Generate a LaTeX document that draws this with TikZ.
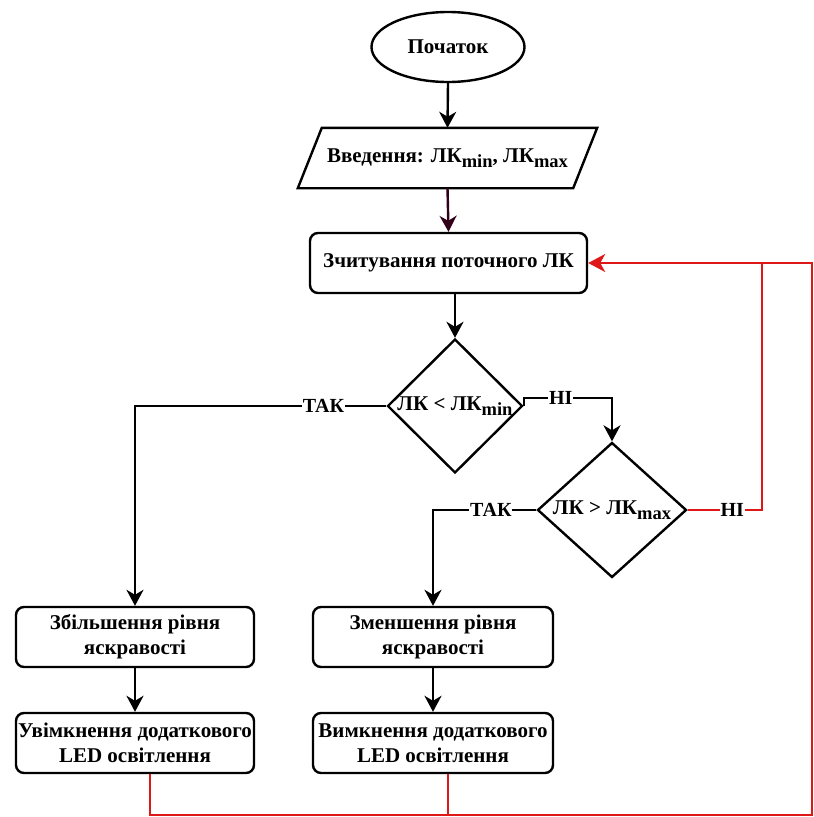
\documentclass[tikz,border=0pt]{standalone}
\usepackage{fontspec}
\setmainfont{Liberation Serif}
\usetikzlibrary{shapes.geometric,arrows.meta,calc}

% subscripted quantity, e.g. LK_min
\newcommand\lksub[1]{ЛК\raisebox{-5pt}{\fontsize{18.5}{18.5}\selectfont #1}}

\definecolor{loopred}{RGB}{222,24,24}
\definecolor{darkplum}{RGB}{51,0,26}

\begin{document}
\begin{tikzpicture}[x=1pt,y=-1pt,
  txt/.style={font=\bfseries\fontsize{21}{25}\selectfont},
  startnode/.style={draw, ellipse, line width=2.4pt, minimum width=153pt, minimum height=70pt, inner sep=0pt, txt},
  procbox/.style={draw, rounded corners=8pt, line width=2.4pt, minimum height=60pt, align=center, inner sep=1pt, txt},
  decision/.style={draw, diamond, line width=2.4pt, inner sep=0pt, txt},
  flow/.style={line width=2.4pt, draw=black, -{Stealth[length=16pt,width=17pt,inset=5pt]}},
  loopline/.style={line width=2.3pt, draw=loopred},
  lbl/.style={fill=white, inner sep=1pt, text=black, font=\bfseries\fontsize{20}{22}\selectfont},
]
\useasboundingbox (0,0) rectangle (814,817);

% nodes
\node[startnode] (start) at (448,47) {Початок};

\node[minimum width=299pt, minimum height=60pt, inner sep=0pt, txt] (input) at (447.5,158)
  {Введення: \lksub{min}, \lksub{max}};
\draw[line width=2.4pt] ($(input.north west)+(24,0)$) -- (input.north east)
  -- ($(input.south east)+(-24,0)$) -- (input.south west) -- cycle;

\node[procbox, minimum width=277pt] (read) at (448.5,263) {Зчитування поточного ЛК};

\node[decision, minimum width=135pt, minimum height=134pt] (d1) at (455,406)
  {\makebox[0pt]{ЛК < \lksub{min}}};
\node[decision, minimum width=149pt, minimum height=135pt] (d2) at (612,510)
  {\makebox[0pt]{ЛК > \lksub{max}}};

\node[procbox, minimum width=238pt] (inc) at (135,637) {Збільшення рівня\\яскравості};
\node[procbox, minimum width=238pt] (incled) at (135,743) {Увімкнення додаткового\\LED освітлення};
\node[procbox, minimum width=240pt] (dec) at (433,637) {Зменшення рівня\\яскравості};
\node[procbox, minimum width=240pt] (decled) at (433,743) {Вимкнення додаткового\\LED освітлення};

% routing points
\coordinate (n1) at ($(d1.east)+(0,-8)$);
\coordinate (n1b) at (d2.north |- n1);
\coordinate (y1) at (inc.north |- d1.west);
\coordinate (y2) at (dec.north |- d2.west);
\coordinate (n2) at (762,510);
\coordinate (lj) at (n2 |- read.east);
\coordinate (br) at (812,815);
\coordinate (tr) at (br |- read.east);
\coordinate (incout) at ($(incled.south)+(15,0)$);
\coordinate (decout) at ($(decled.south)+(15,0)$);
\coordinate (j2) at (decout |- br);

% main flow
\draw[flow] (start.south) -- (input.north);
\draw[flow, draw=darkplum] (input.south) -- (read.north);
\draw[flow] (d1.north |- read.south) -- (d1.north);
\draw[flow] (d1.east) -- (n1) -- node[lbl, pos=0.42] {НІ} (n1b) -- (d2.north);
\draw[flow] (d1.west) -- node[lbl, pos=0.25] {ТАК} (y1) -- (inc.north);
\draw[flow] (d2.west) -- node[lbl, pos=0.44] {ТАК} (y2) -- (dec.north);
\draw[flow] (inc.south) -- (incled.north);
\draw[flow] (dec.south) -- (decled.north);

% return loop
\draw[loopline] (d2.east) -- node[lbl, pos=0.6] {НІ} (n2) -- (lj);
\draw[loopline] (decout) -- (j2);
\draw[loopline, -{Stealth[length=17pt,width=18pt,inset=5pt]}]
  (incout) |- (br) -- (tr) -- (read.east);
\end{tikzpicture}
\end{document}
